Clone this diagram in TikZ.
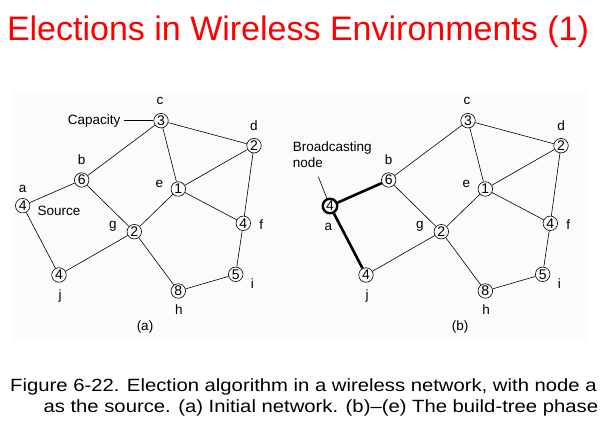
\documentclass[tikz,border=0pt]{standalone}
\usepackage{fontspec}
\setmainfont{Liberation Sans}
\usetikzlibrary{positioning}
\definecolor{tRed}{RGB}{255,0,0}
\definecolor{tPanel}{RGB}{251,251,251}

\begin{document}
\begin{tikzpicture}[x=1pt,y=-1pt,
	site/.style={
		draw, circle, line width=0.6pt, minimum size=14.5pt, inner sep=0pt,
		font=\fontsize{14}{14}\selectfont
	},
	lbl/.style={font=\fontsize{13.5}{16}\selectfont, inner sep=1pt},
	link/.style={line width=0.6pt},
	tree/.style={line width=2.6pt},
	caption/.style={anchor=base west, inner sep=0pt, xscale=1.145, transform shape,
		font=\fontsize{17.7}{22}\selectfont}
	]
	\useasboundingbox (0,0) rectangle (600,425);
	\fill[tPanel] (13,92) rectangle (587,340);

	\node[anchor=base, inner sep=0pt, text=tRed, font=\fontsize{34}{34}\selectfont] (title) at (298,41)
		{Elections in Wireless Environments (1)};

	% (a) initial network
	\begin{scope}[name prefix=A-]
	\foreach \n/\p/\c in {a/{22.7,205.7}/4, b/{81.7,180}/6, c/{161,120.7}/3, d/{254,145.7}/2,
		e/{178.3,189}/1, f/{243.3,223.3}/4, g/{134.3,231.7}/2, h/{178.3,291}/8,
		i/{235.7,274.3}/5, j/{59,275}/4}
	\node[site] (\n) at (\p) {\c};

	\foreach \n/\d in {a/{0,-17}, b/{0,-20}, c/{-1,-20}, d/{0,-20.5}, e/{-19,-5},
		f/{18,1}, g/{-21.5,-5}, h/{0.7,19}, i/{16.6,9}, j/{1,21}}
	\node[lbl] (\n-tag) at ([shift={(\d)}]\n) {\n};

	\foreach \u/\v in {a/b, a/j, b/c, b/g, c/e, c/d, d/e, d/f, e/g, e/f, g/j, g/h, h/i, i/f}
	\draw[link] (\u) -- (\v);

	\node[lbl, inner sep=3pt, anchor=east] (cap) at (123.5,120.7) {Capacity};
	\draw[link] (cap) -- (c);
	\node[lbl] (src) at (59,210.7) {Source};
	\end{scope}

	% (b) a starts broadcasting
	\begin{scope}[xshift=307pt, name prefix=B-]
	\foreach \n/\p/\c in {b/{81.7,180}/6, c/{161,120.7}/3, d/{254,145.7}/2,
		e/{178.3,189}/1, f/{243.3,223.3}/4, g/{134.3,231.7}/2, h/{178.3,291}/8,
		i/{235.7,274.3}/5, j/{59,275}/4}
	\node[site] (\n) at (\p) {\c};
	\node[site, line width=2.4pt] (a) at (23,206) {4};

	\foreach \n/\d in {a/{-1.7,20.7}, b/{0,-20}, c/{-1,-20}, d/{0,-20.5}, e/{-19,-5},
		f/{18,1}, g/{-21.5,-5}, h/{0.7,19}, i/{16.6,9}, j/{1,21}}
	\node[lbl] (\n-tag) at ([shift={(\d)}]\n) {\n};

	\foreach \u/\v in {b/c, b/g, c/e, c/d, d/e, d/f, e/g, e/f, g/j, g/h, h/i, i/f}
	\draw[link] (\u) -- (\v);
	\draw[tree] (a) -- (b);
	\draw[tree] (a) -- (j);

	\node[lbl, anchor=west, align=left] (bcast) at (-15.3,154.7) {Broadcasting\\node};
	\coordinate (lead) at (11.3,176.7);
	\draw[link] (lead) -- (a);
	\end{scope}

	\node[lbl] (sub-a) at (145,327.3) {(a)};
	\node[lbl] (sub-b) at (460,327.3) {(b)};

	\node[caption] (cap1) at (10,391)
		{Figure 6-22. Election algorithm in a wireless network, with node a};
	\node[caption] (cap2) at (43.3,412.3)
		{as the source. (a) Initial network. (b)--(e) The build-tree phase};
\end{tikzpicture}
\end{document}
